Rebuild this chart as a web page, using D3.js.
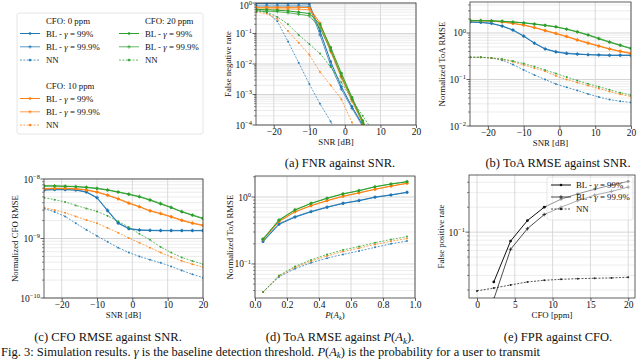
<!DOCTYPE html>
<html><head><meta charset="utf-8">
<script src="https://cdn.jsdelivr.net/npm/d3@7"></script>
<style>body{margin:0;background:#fff;overflow:hidden} svg{display:block} text{font-family:"Liberation Serif","Times New Roman",serif;fill:#111}</style>
</head><body><svg id="c" width="640" height="360" font-family="Liberation Serif"></svg>
<script>
// ---------- data ----------
const snr = [-25,-22,-19,-16,-13,-10,-7,-4,-1,2,5,8,11,14,17,20];
const snrTicks = [-20,-10,0,10,20];
const pak = [0.05,0.15,0.25,0.35,0.45,0.55,0.65,0.75,0.85,0.95];
const pakTicks = [0,0.2,0.4,0.6,0.8,1.0];
const cfo = [0,2.22,4.44,6.67,8.89,11.11,13.33,15.56,17.78,20];
const cfoTicks = [0,5,10,15,20];
const groups = ["CFO: 0 ppm","CFO: 10 ppm","CFO: 20 ppm"];
const methods = ["BL - γ = 99%","BL - γ = 99.9%","NN"];

// (a) false negative rate vs SNR
const fnrBL99_0  = [0.95,0.95,0.95,0.95,0.95,0.93,0.12,0.012,0.0018,0.0004,0.0001,0.00002,null,null,null,null];
const fnrBL999_0 = [0.8,0.8,0.8,0.8,0.8,0.78,0.09,0.009,0.0015,0.00035,0.00009,0.00002,null,null,null,null];
const fnrNN_0    = [0.6,0.5,0.25,0.055,0.011,0.0022,0.0005,0.00013,0.00003,null,null,null,null,null,null,null];
const fnrBL99_10 = [0.72,0.72,0.72,0.72,0.72,0.7,0.22,0.03,0.004,0.0007,0.00013,0.00002,null,null,null,null];
const fnrBL999_10= [0.64,0.64,0.64,0.64,0.63,0.6,0.18,0.025,0.0035,0.0006,0.00011,0.00002,null,null,null,null];
const fnrNN_10   = [0.5,0.45,0.3,0.12,0.05,0.02,0.0055,0.002,0.0007,0.00012,0.00002,null,null,null,null,null];
const fnrBL99_20 = [0.62,0.6,0.58,0.55,0.5,0.45,0.2,0.035,0.005,0.0008,0.00014,0.00002,null,null,null,null];
const fnrBL999_20= [0.55,0.54,0.52,0.48,0.43,0.38,0.15,0.028,0.004,0.0007,0.00012,0.00002,null,null,null,null];
const fnrNN_20   = [0.55,0.5,0.35,0.2,0.09,0.045,0.022,0.008,0.0025,0.0007,0.0002,0.00006,null,null,null,null];

// (b) normalized ToA RMSE vs SNR
const toaBL99_0  = [1.72,1.68,1.6,1.4,1.15,0.85,0.6,0.45,0.39,0.36,0.35,0.34,0.335,0.33,0.33,0.33];
const toaBL999_0 = [1.74,1.7,1.62,1.42,1.17,0.87,0.61,0.46,0.4,0.37,0.355,0.345,0.34,0.335,0.335,0.335];
const toaNN_0    = [0.3,0.3,0.29,0.26,0.21,0.16,0.125,0.1,0.08,0.068,0.058,0.049,0.042,0.037,0.034,0.032];
const toaBL99_10 = [1.85,1.83,1.8,1.72,1.6,1.47,1.3,1.12,0.97,0.83,0.7,0.6,0.52,0.45,0.4,0.36];
const toaBL999_10= [1.86,1.84,1.81,1.74,1.62,1.49,1.32,1.14,0.99,0.85,0.72,0.62,0.53,0.46,0.41,0.37];
const toaNN_10   = [0.3,0.3,0.29,0.27,0.24,0.205,0.175,0.15,0.12,0.1,0.086,0.074,0.064,0.055,0.048,0.043];
const toaBL99_20 = [1.85,1.84,1.82,1.78,1.72,1.65,1.55,1.45,1.35,1.2,1.05,0.9,0.75,0.63,0.54,0.46];
const toaBL999_20= [1.86,1.85,1.83,1.79,1.73,1.66,1.57,1.47,1.37,1.22,1.07,0.92,0.77,0.65,0.55,0.47];
const toaNN_20   = [0.3,0.3,0.29,0.275,0.25,0.22,0.19,0.16,0.135,0.113,0.095,0.081,0.07,0.06,0.052,0.046];

// (c) normalized CFO RMSE vs SNR (x 1e-9)
const cfoBL99_0  = [6.5,6.6,6.6,6.5,6.0,4.8,2.9,1.8,1.45,1.38,1.36,1.35,1.35,1.35,1.35,1.35];
const cfoBL999_0 = [6.6,6.7,6.7,6.6,6.1,4.9,3.0,1.85,1.48,1.4,1.38,1.37,1.37,1.37,1.37,1.37];
const cfoNN_0    = [3.2,2.8,2.35,1.8,1.4,1.1,0.88,0.7,0.58,0.5,0.44,0.39,0.34,0.29,0.25,0.22];
const cfoBL99_10 = [6.8,6.9,6.9,6.8,6.5,6.0,5.3,4.6,3.9,3.4,2.9,2.6,2.3,2.0,1.8,1.65];
const cfoBL999_10= [6.9,7.0,7.0,6.9,6.6,6.1,5.4,4.7,4.0,3.45,2.95,2.65,2.35,2.05,1.83,1.68];
const cfoNN_10   = [3.3,3.0,2.7,2.35,2.05,1.8,1.5,1.25,1.02,0.85,0.7,0.58,0.49,0.42,0.37,0.33];
const cfoBL99_20 = [7.6,7.6,7.5,7.4,7.2,6.9,6.5,6.0,5.5,5.0,4.4,3.8,3.3,2.8,2.45,2.15];
const cfoBL999_20= [7.7,7.7,7.6,7.5,7.3,7.0,6.6,6.1,5.6,5.1,4.5,3.9,3.35,2.85,2.5,2.2];
const cfoNN_20   = [4.85,4.5,4.1,3.6,3.2,2.85,2.4,1.95,1.55,1.2,0.95,0.72,0.58,0.48,0.42,0.37];

// (d) normalized ToA RMSE vs P(A_k)
const pBL99_0  = [0.215,0.39,0.5,0.6,0.7,0.8,0.88,0.99,1.07,1.17];
const pBL999_0 = [0.22,0.4,0.51,0.61,0.71,0.81,0.89,1.0,1.08,1.18];
const pNN_0    = [0.038,0.064,0.085,0.104,0.122,0.139,0.156,0.177,0.2,0.22];
const pBL99_10 = [0.23,0.43,0.6,0.74,0.88,1.02,1.15,1.3,1.45,1.6];
const pBL999_10= [0.232,0.435,0.605,0.745,0.885,1.03,1.16,1.31,1.46,1.61];
const pNN_10   = [0.038,0.066,0.089,0.11,0.132,0.153,0.172,0.196,0.218,0.24];
const pBL99_20 = [0.234,0.45,0.64,0.8,0.955,1.11,1.24,1.42,1.56,1.69];
const pBL999_20= [0.237,0.455,0.645,0.805,0.96,1.12,1.25,1.43,1.57,1.7];
const pNN_20   = [0.038,0.067,0.092,0.115,0.139,0.162,0.182,0.208,0.232,0.256];

// (e) false positive rate vs CFO
const fprBL99  = [null,0.025,0.078,0.138,0.2,0.25,0.29,0.33,0.37,0.41];
const fprBL999 = [null,0.0155,0.062,0.11,0.163,0.2,0.24,0.28,0.31,0.35];
const fprNN    = [0.0195,0.0211,0.023,0.025,0.0262,0.0269,0.0274,0.0277,0.028,0.0285];

// ---------- drawing ----------
const colors = ["#1f77b4","#ff7f0e","#2ca02c"];
const FONT = "Liberation Serif";
const svg = d3.select("#c");
const isPow10 = v => Math.abs(Math.log10(v) - Math.round(Math.log10(v))) < 1e-6;
const styles = [
  {dash:null, w:1.0, op:1.0, mk:"dot"},
  {dash:null, w:1.0, op:0.75, mk:"plus"},
  {dash:"2,1.4", w:0.8, op:0.9, mk:"dot"}
];

function supLabel(sel, v){
  const e = Math.round(Math.log10(v));
  sel.append("tspan").text("10");
  sel.append("tspan").attr("dy",-3.8).attr("font-size",6.5).text(e<0 ? "\u2212"+(-e) : String(e));
}

function panel(p){
  const x = d3.scaleLinear().domain(p.xd).range([p.x0,p.x1]);
  const y = d3.scaleLog().domain(p.yd).range([p.y1,p.y0]);
  const g = svg.append("g");
  const cid = "clip-"+p.id;
  svg.append("clipPath").attr("id",cid).append("rect")
    .attr("x",p.x0).attr("y",p.y0).attr("width",p.x1-p.x0).attr("height",p.y1-p.y0);
  const all = y.ticks();
  const major = all.filter(isPow10);
  const minor = all.filter(v=>!isPow10(v));
  // grid
  g.selectAll(".mg").data(minor).join("line")
    .attr("x1",p.x0).attr("x2",p.x1).attr("y1",d=>y(d)).attr("y2",d=>y(d))
    .attr("stroke","#e4e4e4").attr("stroke-width",0.7);
  g.selectAll(".Mg").data(major).join("line")
    .attr("x1",p.x0).attr("x2",p.x1).attr("y1",d=>y(d)).attr("y2",d=>y(d))
    .attr("stroke","#d0d0d0").attr("stroke-width",0.9);
  g.selectAll(".xg").data(p.xt).join("line")
    .attr("x1",d=>x(d)).attr("x2",d=>x(d)).attr("y1",p.y0).attr("y2",p.y1)
    .attr("stroke","#d6d6d6").attr("stroke-width",0.9);
  // series
  const sg = g.append("g").attr("clip-path","url(#"+cid+")");
  p.series.forEach(s=>{
    const st = styles[s.m];
    const pts = p.xs.map((xv,i)=>[xv,s.v[i]]).filter(d=>d[1]!=null).map(d=>[d[0],d[1]*(p.scale||1)]);
    const line = d3.line().x(d=>x(d[0])).y(d=>y(d[1]));
    sg.append("path").attr("d",line(pts)).attr("fill","none")
      .attr("stroke",s.c).attr("stroke-width",st.w).attr("stroke-opacity",st.op)
      .attr("stroke-dasharray",st.dash);
    pts.forEach(d=>{
      const cx=x(d[0]), cy=y(d[1]);
      if(st.mk==="plus"){
        sg.append("path").attr("d",`M${cx-1.8},${cy}H${cx+1.8}M${cx},${cy-1.8}V${cy+1.8}`)
          .attr("stroke",s.c).attr("stroke-width",1).attr("stroke-opacity",st.op);
      } else {
        sg.append("circle").attr("cx",cx).attr("cy",cy).attr("r",s.m===2?1.0:1.4)
          .attr("fill",s.c).attr("fill-opacity",st.op);
      }
    });
  });
  // frame
  g.append("rect").attr("x",p.x0).attr("y",p.y0).attr("width",p.x1-p.x0).attr("height",p.y1-p.y0)
    .attr("fill","none").attr("stroke","#3a3a3a").attr("stroke-width",0.8);
  // x axis
  const xa = g.append("g").attr("transform",`translate(0,${p.y1})`)
    .call(d3.axisBottom(x).tickValues(p.xt).tickSize(3).tickFormat(p.xf || (d=>d<0?"\u2212"+(-d):String(d))));
  xa.attr("font-family",FONT);
  xa.select(".domain").remove();
  xa.selectAll("line").attr("stroke","#3a3a3a").attr("stroke-width",0.8);
  xa.selectAll("text").attr("font-size",9.5).attr("dy","0.71em").attr("y",3.5).attr("fill","#111")
    .attr("font-family",FONT);
  // y axis
  g.selectAll(".yt").data(major).join("line")
    .attr("x1",p.x0-3.5).attr("x2",p.x0).attr("y1",d=>y(d)).attr("y2",d=>y(d))
    .attr("stroke","#3a3a3a").attr("stroke-width",0.8);
  g.selectAll(".ym").data(minor).join("line")
    .attr("x1",p.x0-2).attr("x2",p.x0).attr("y1",d=>y(d)).attr("y2",d=>y(d))
    .attr("stroke","#3a3a3a").attr("stroke-width",0.6);
  major.forEach(v=>{
    const t = g.append("text").attr("x",p.x0-4).attr("y",Math.max(y(v)+3.5,8.5))
      .attr("text-anchor","end").attr("font-size",9.5);
    supLabel(t,v);
  });
  // labels
  const xl = g.append("text").attr("x",(p.x0+p.x1)/2).attr("y",p.y1+20).attr("text-anchor","middle").attr("font-size",8.8);
  if(p.xlabel==="P"){
    xl.append("tspan").attr("font-style","italic").text("P");
    xl.append("tspan").text("(");
    xl.append("tspan").attr("font-style","italic").text("A");
    xl.append("tspan").attr("font-style","italic").attr("font-size",6.5).attr("dy",2).text("k");
    xl.append("tspan").attr("dy",-2).text(")");
  } else xl.text(p.xlabel);
  g.append("text").attr("transform",`translate(${p.ylx},${(p.y0+p.y1)/2}) rotate(-90)`)
    .attr("text-anchor","middle").attr("font-size",8.8).text(p.ylabel);
  return {x,y,g};
}

function mkSeries(arrs){
  const out=[];
  arrs.forEach((row,gi)=>row.forEach((v,mi)=>out.push({v,c:colors[gi],m:mi})));
  return out;
}

panel({id:"a",x0:256,x1:416,y0:3,y1:125,xd:[-25,20],yd:[1e-4,1],xt:snrTicks,xs:snr,
  xlabel:"SNR [dB]",ylabel:"False negative rate",ylx:231,
  series:mkSeries([[fnrBL99_0,fnrBL999_0,fnrNN_0],[fnrBL99_10,fnrBL999_10,fnrNN_10],[fnrBL99_20,fnrBL999_20,fnrNN_20]])});
panel({id:"b",x0:470,x1:631,y0:2,y1:126,xd:[-25,20],yd:[1e-2,4.64],xt:snrTicks,xs:snr,
  xlabel:"SNR [dB]",ylabel:"Normalized ToA RMSE",ylx:445,
  series:mkSeries([[toaBL99_0,toaBL999_0,toaNN_0],[toaBL99_10,toaBL999_10,toaNN_10],[toaBL99_20,toaBL999_20,toaNN_20]])});
panel({id:"c",x0:44,x1:203,y0:179,y1:298,xd:[-25,20],yd:[1e-10,1e-8],xt:snrTicks,xs:snr,scale:1e-9,
  xlabel:"SNR [dB]",ylabel:"Normalized CFO RMSE",ylx:18,
  series:mkSeries([[cfoBL99_0,cfoBL999_0,cfoNN_0],[cfoBL99_10,cfoBL999_10,cfoNN_10],[cfoBL99_20,cfoBL999_20,cfoNN_20]])});
panel({id:"d",x0:255,x1:415,y0:176,y1:298,xd:[0,1],yd:[0.031,2.06],xt:pakTicks,xs:pak,xf:d3.format(".1f"),
  xlabel:"P",ylabel:"Normalized ToA RMSE",ylx:233,
  series:mkSeries([[pBL99_0,pBL999_0,pNN_0],[pBL99_10,pBL999_10,pNN_10],[pBL99_20,pBL999_20,pNN_20]])});
panel({id:"e",x0:469,x1:635,y0:175,y1:298,xd:[-1.06,20.9],yd:[0.016,0.49],xt:cfoTicks,xs:cfo,
  xlabel:"CFO [ppm]",ylabel:"False positive rate",ylx:444,
  series:[{v:fprBL99,c:"#111",m:0},{v:fprBL999,c:"#111",m:1},{v:fprNN,c:"#111",m:2}]});

function drawKey(g,xa,xb,yy,c,i){
  const st = styles[i];
  g.append("line").attr("x1",xa).attr("x2",xb).attr("y1",yy).attr("y2",yy)
    .attr("stroke",c).attr("stroke-width",st.w).attr("stroke-opacity",st.op).attr("stroke-dasharray",st.dash);
  const cx=(xa+xb)/2;
  if(st.mk==="plus") g.append("path").attr("d",`M${cx-1.8},${yy}H${cx+1.8}M${cx},${yy-1.8}V${yy+1.8}`)
      .attr("stroke",c).attr("stroke-width",1).attr("stroke-opacity",st.op);
  else g.append("circle").attr("cx",cx).attr("cy",yy).attr("r",1.3).attr("fill",c).attr("fill-opacity",st.op);
}
function legText(g,x,y,m){
  const t = g.append("text").attr("x",x).attr("y",y).attr("font-size",8.8);
  if(m.startsWith("BL")){
    t.append("tspan").text("BL - ");
    t.append("tspan").attr("font-style","italic").text("γ");
    t.append("tspan").text(" = "+m.split("= ")[1]);
  } else t.text(m);
}

// legend for (e)
(function(){
  const g = svg.append("g");
  g.append("rect").attr("x",547).attr("y",177).attr("width",86).attr("height",43).attr("rx",2)
    .attr("fill","#fff").attr("fill-opacity",0.55).attr("stroke","#ddd").attr("stroke-width",0.7);
  methods.forEach((m,i)=>{
    const yy = 185+i*12;
    drawKey(g,551,571,yy,"#111",i);
    legText(g,576,yy+3,m);
  });
})();

// main legend
(function(){
  const g = svg.append("g");
  g.append("rect").attr("x",17).attr("y",13).attr("width",186).attr("height",121).attr("rx",2)
    .attr("fill","#fff").attr("stroke","#e0e0e0").attr("stroke-width",0.8);
  const pos = [{lx:20,tx:46,y:21},{lx:20,tx:46,y:86},{lx:119,tx:145,y:21}];
  groups.forEach((gname,gi)=>{
    const p=pos[gi];
    g.append("text").attr("x",p.tx).attr("y",p.y+3).attr("font-size",8.8).text(gname);
    methods.forEach((m,mi)=>{
      const yy = p.y+12.5+mi*13.3;
      drawKey(g,p.lx,p.lx+20,yy,colors[gi],mi);
      legText(g,p.tx,yy+3,m);
    });
  });
})();

// captions
function caption(x,y,parts){
  const t = svg.append("text").attr("x",x).attr("y",y).attr("text-anchor","middle").attr("font-size",12.5);
  parts.forEach(p=>{ const s=t.append("tspan").text(p.t); if(p.i) s.attr("font-style","italic"); if(p.dy) s.attr("dy",p.dy); if(p.fs) s.attr("font-size",p.fs); });
}
caption(340,167,[{t:"(a) FNR against SNR."}]);
caption(558,167,[{t:"(b) ToA RMSE against SNR."}]);
caption(108,341,[{t:"(c) CFO RMSE against SNR."}]);
caption(340,341,[{t:"(d) ToA RMSE against "},{t:"P",i:1},{t:"("},{t:"A",i:1},{t:"k",i:1,dy:2.5,fs:9},{t:")",dy:-2.5},{t:"."}]);
caption(558,341,[{t:"(e) FPR against CFO."}]);
(function(){
  const t = svg.append("text").attr("x",1).attr("y",356).attr("font-size",12.5);
  t.append("tspan").text("Fig. 3: Simulation results. ");
  t.append("tspan").attr("font-style","italic").text("γ");
  t.append("tspan").text(" is the baseline detection threshold. ");
  t.append("tspan").attr("font-style","italic").text("P");
  t.append("tspan").text("(");
  t.append("tspan").attr("font-style","italic").text("A");
  t.append("tspan").attr("font-style","italic").attr("font-size",9).attr("dy",1.5).text("k");
  t.append("tspan").attr("dy",-1.5).text(") is the probability for a user to transmit");
})();
</script></body></html>
